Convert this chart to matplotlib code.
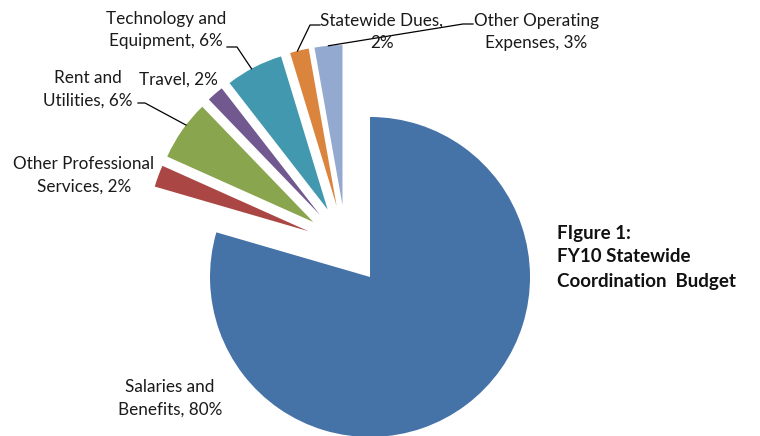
import numpy as np
import matplotlib
matplotlib.use("Agg")
import matplotlib.pyplot as plt

# budget shares (percent of total)
categories = ["Salaries and Benefits", "Other Professional Services", "Rent and Utilities",
              "Travel", "Technology and Equipment", "Statewide Dues", "Other Operating Expenses"]
shares = [79.5, 2.2, 6.1, 1.7, 5.8, 1.9, 2.8]
label_texts = ["Salaries and\nBenefits, {}%", "Other Professional\nServices, {}%",
               "Rent and\nUtilities, {}%", "Travel, {}%", "Technology and\nEquipment, {}%",
               "Statewide Dues,\n{}%", "Other Operating\nExpenses, {}%"]
colors = ["#4572A7", "#AA4643", "#89A54E", "#71588F", "#4198AF", "#DB843D", "#93A9CF"]

W, H = 760, 436
fig = plt.figure(figsize=(W / 100, H / 100), dpi=100)
ax = fig.add_axes([0, 0, 1, 1])

def py(y):
    # pixel row from top -> data y
    return H - y

# explode is in data units here (pixels), since radius is in pixels
wedges, _ = ax.pie(shares, colors=colors, startangle=90, counterclock=False,
                   explode=[40] * len(shares), radius=160, center=(346, py(245)))
ax.set_xlim(0, W)
ax.set_ylim(0, H)
ax.set_aspect("equal")
ax.axis("off")

font = dict(family=["Lato", "DejaVu Sans"], fontsize=12.3, color="#1a1a1a")
total = sum(shares)
pct = [round(s / total * 100) for s in shares]
labels = [t.format(p) for t, p in zip(label_texts, pct)]

# label centres in pixels (x, y from top)
label_pos = [(170, 398), (84, 175), (88, 89), (178, 80), (166, 30), (382, 32), (536, 32)]
for lab, (x, y) in zip(labels, label_pos):
    ax.text(x, py(y), lab, ha="center", va="center", linespacing=1.5, **font)

def arc_point(w, frac):
    a = np.deg2rad(w.theta1 + (w.theta2 - w.theta1) * frac)
    return w.center[0] + w.r * np.cos(a), w.center[1] + w.r * np.sin(a)

# leader lines: (wedge index, text end, elbow, fraction along arc)
leaders = [(2, (138, 103), (145, 103), 0.4),
           (4, (227, 47), (237, 47), 0.55),
           (5, (320, 25), (310, 25), 0.6),
           (6, (473, 24), (463, 24), 0.5)]
for i, (tx, ty), (ex, ey), f in leaders:
    sx, sy = arc_point(wedges[i], f)
    ax.plot([tx, ex, sx], [py(ty), py(ey), sy], color="black", lw=0.9)

ax.text(557, py(257), "FIgure 1:\nFY10 Statewide\nCoordination  Budget", ha="left", va="center",
        family=["Lato", "DejaVu Sans"], fontsize=13.5, fontweight="bold", linespacing=1.5,
        color="#111111")

fig.savefig("out.png", dpi=100)
